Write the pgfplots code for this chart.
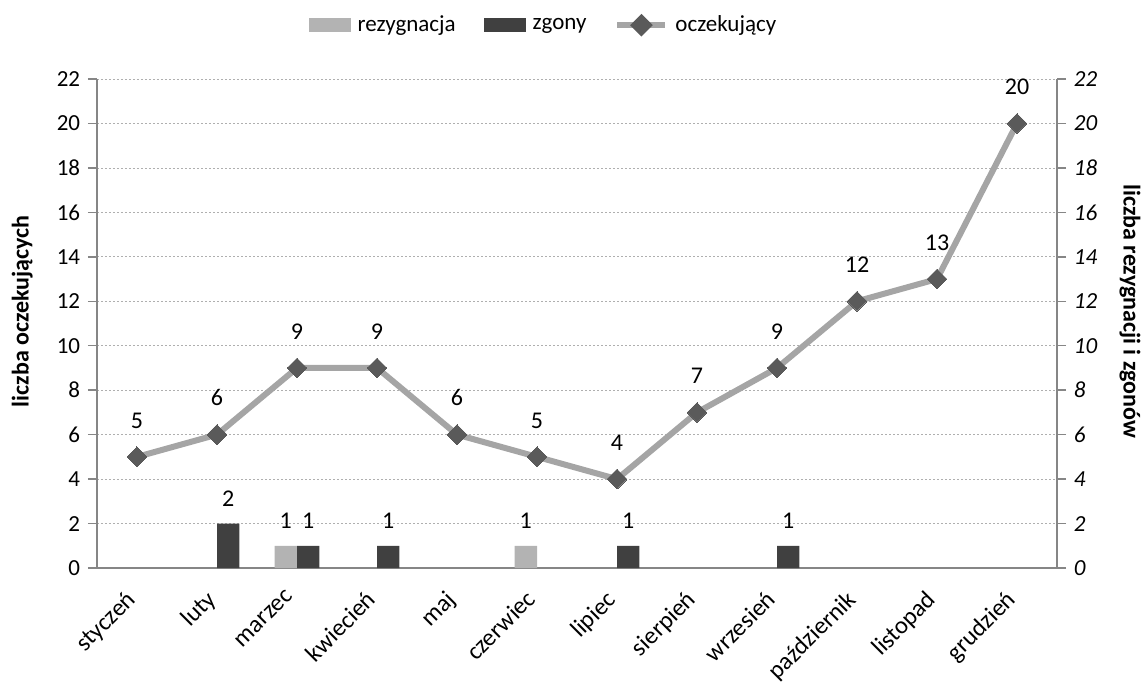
\documentclass[border=0pt]{standalone}
\usepackage{pgfplots}
\pgfplotsset{compat=1.18}
\usepackage{fontspec}
\setmainfont{Carlito}
\definecolor{axgray}{RGB}{134,134,134}
\definecolor{gridgray}{RGB}{175,175,175}
\definecolor{lightbar}{RGB}{179,179,179}
\definecolor{darkbar}{RGB}{64,64,64}
\definecolor{linegray}{RGB}{165,165,165}
\definecolor{markgray}{RGB}{90,90,90}
\begin{document}
\fontsize{23}{27}\selectfont
\begin{tikzpicture}
\begin{axis}[
  scale only axis, width=960pt, height=489pt,
  at={(0pt,0pt)}, anchor=south west,
  xmin=-0.5, xmax=11.5, ymin=0, ymax=22,
  axis x line*=bottom, axis y line*=left,
  axis line style={draw=axgray, line width=1.5pt},
  xtick={0,...,11},
  xticklabels={styczeń,luty,marzec,kwiecień,maj,czerwiec,lipiec,sierpień,wrzesień,październik,listopad,grudzień},
  x tick style={draw=none},
  xticklabel style={font=\fontsize{24.5}{28}\selectfont, xshift=-12pt, yshift=-1pt, rotate=45, anchor=north east},
  extra x ticks={-0.5,0.5,...,11.5},
  extra x tick labels={},
  extra x tick style={grid=none, tick align=outside, major tick length=9pt, tick style={draw=axgray, line width=1.5pt}},
  ytick={0,2,...,22},
  y tick style={draw=axgray, line width=1.5pt},
  tick align=outside, major tick length=9pt,
  yticklabel style={font=\fontsize{23}{27}\selectfont},
  /pgf/number format/assume math mode=true,
  ymajorgrids, grid style={draw=gridgray, dashed, dash pattern=on 2pt off 2pt, line width=0.8pt},
  ylabel={\bfseries liczba oczekujących},
  ylabel style={at={(axis description cs:-0.078,0.525)}, anchor=center, font=\fontsize{24}{28}\selectfont},
  legend columns=3,
  legend style={at={(axis description cs:0.465,1.11)}, anchor=center, draw=none, fill=none,
    font=\fontsize{23}{27}\selectfont,
    /tikz/every odd column/.append style={column sep=5pt},
    /tikz/every even column/.append style={column sep=26pt}},
  clip=false,
]
\addplot[ybar, bar width=0.28, bar shift=-0.14, fill=lightbar, draw=none,
  nodes near coords, nodes near coords style={font=\fontsize{24}{28}\selectfont, text=black, yshift=9pt, xshift=-11.2pt},
  legend image code/.code={\fill[lightbar] (0pt,-7pt) rectangle (42pt,7pt);}]
  coordinates {(2,1) (5,1)};
\addlegendentry{rezygnacja}
\addplot[ybar, bar width=0.28, bar shift=0.14, fill=darkbar, draw=none,
  nodes near coords, nodes near coords style={font=\fontsize{24}{28}\selectfont, text=black, yshift=9pt, xshift=11.2pt},
  legend image code/.code={\fill[darkbar] (0pt,-7pt) rectangle (42pt,7pt);}]
  coordinates {(1,2) (2,1) (3,1) (6,1) (8,1)};
\addlegendentry{zgony}
\addplot[draw=linegray, line width=6pt, mark=square*, mark size=7pt,
  mark options={fill=markgray, draw=markgray, line width=0pt, rotate=45},
  nodes near coords, nodes near coords style={font=\fontsize{24}{28}\selectfont, text=black, yshift=21pt},
  legend image code/.code={\draw[linegray, line width=6pt] (0pt,0pt) -- (48pt,0pt);
    \fill[markgray, rotate around={45:(24pt,0pt)}] (19pt,-5pt) rectangle (29pt,5pt);}]
  coordinates {(0,5) (1,6) (2,9) (3,9) (4,6) (5,5) (6,4) (7,7) (8,9) (9,12) (10,13) (11,20)};
\addlegendentry{oczekujący}
\end{axis}
\begin{axis}[
  scale only axis, width=960pt, height=489pt,
  at={(0pt,0pt)}, anchor=south west,
  xmin=-0.5, xmax=11.5, ymin=0, ymax=22,
  axis x line=none, axis y line*=right,
  axis line style={draw=axgray, line width=1.5pt},
  ytick={0,2,...,22},
  y tick style={draw=axgray, line width=1.5pt},
  tick align=outside, major tick length=9pt,
  yticklabel style={font=\fontsize{23}{27}\selectfont\itshape},
  /pgf/number format/assume math mode=true,
  ylabel={\bfseries liczba rezygnacji i zgonów},
  ylabel style={at={(axis description cs:1.076,0.525)}, anchor=center, rotate=180, font=\fontsize{24}{28}\selectfont},
]
\end{axis}
\pgfresetboundingbox
\path (-97pt,-120pt) rectangle (1045pt,568pt);
\end{tikzpicture}
\end{document}
